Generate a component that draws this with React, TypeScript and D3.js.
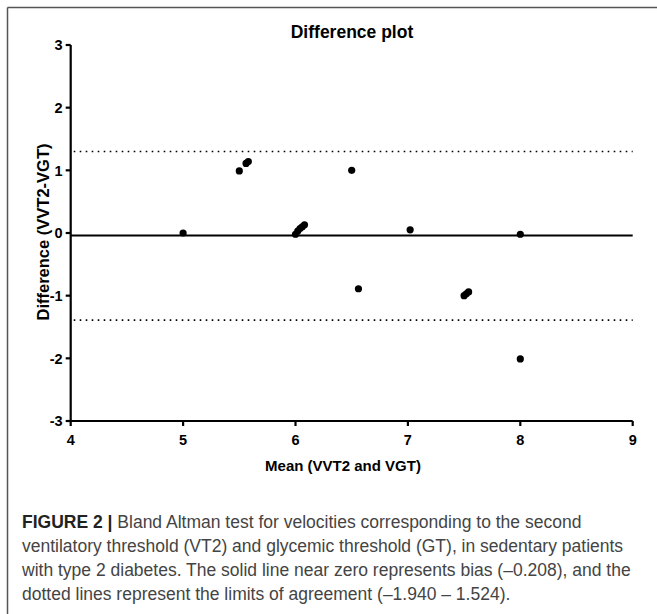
import React from "react";
import * as d3 from "d3";

const xTicks = [4, 5, 6, 7, 8, 9];
const yTicks = [-3, -2, -1, 0, 1, 2, 3];
const meanValues = [5.0, 5.5, 5.56, 5.58, 6.0, 6.02, 6.04, 6.06, 6.08, 6.5, 6.56, 7.02, 7.5, 7.52, 7.54, 8.0, 8.0];
const diffValues = [0.0, 0.99, 1.11, 1.14, -0.02, 0.03, 0.07, 0.1, 0.13, 1.0, -0.89, 0.05, -1.0, -0.97, -0.94, -0.02, -2.01];
const bias = -0.04;
const upperLimit = 1.3;
const lowerLimit = -1.39;
const captionLines = [
  "Bland Altman test for velocities corresponding to the second",
  "ventilatory threshold (VT2) and glycemic threshold (GT), in sedentary patients",
  "with type 2 diabetes. The solid line near zero represents bias (\u20130.208), and the",
  "dotted lines represent the limits of agreement (\u20131.940 \u2013 1.524).",
];

export default function App() {
  const W = 657, H = 614;
  const x = d3.scaleLinear().domain([4, 9]).range([70.7, 632.7]);
  const y = d3.scaleLinear().domain([-3, 3]).range([421, 45]);
  const font = "'Liberation Sans', Arial, sans-serif";
  const [x0, x1] = x.range();
  return (
    <svg width={W} height={H} style={{ position: "absolute", left: 0, top: 0, background: "#fff" }}>
      <rect x={0} y={0} width={W} height={H} fill="#fff" />
      {/* frame */}
      <line x1={7.5} x2={W} y1={7.5} y2={7.5} stroke="#555" strokeWidth={1.5} />
      <line x1={7.5} x2={7.5} y1={7.5} y2={H} stroke="#555" strokeWidth={1.5} />
      {/* title */}
      <text x={352} y={38} textAnchor="middle" fontFamily={font} fontWeight="bold" fontSize={17.5} fill="#000">
        Difference plot
      </text>
      {/* limit lines */}
      {[upperLimit, lowerLimit].map((v, i) => (
        <line key={i} x1={x0 + 3} x2={x1} y1={y(v)} y2={y(v)} stroke="#000" strokeWidth={1.6} strokeDasharray="1.6,4.4" />
      ))}
      {/* bias line */}
      <line x1={x0} x2={x1} y1={y(bias)} y2={y(bias)} stroke="#000" strokeWidth={2} />
      {/* axes */}
      <line x1={x0} x2={x0} y1={y(3)} y2={y(-3)} stroke="#000" strokeWidth={2.2} />
      <line x1={x0} x2={x1} y1={y(-3)} y2={y(-3)} stroke="#000" strokeWidth={2.2} />
      {yTicks.map((t) => (
        <g key={"y" + t}>
          <line x1={x0 - 5} x2={x0} y1={y(t)} y2={y(t)} stroke="#000" strokeWidth={2.2} />
          <text x={x0 - 8} y={y(t)} dy="0.36em" textAnchor="end" fontFamily={font} fontWeight="bold" fontSize={14.5} fill="#000">
            {t}
          </text>
        </g>
      ))}
      {xTicks.map((t) => (
        <g key={"x" + t}>
          <line x1={x(t)} x2={x(t)} y1={y(-3)} y2={y(-3) + 5} stroke="#000" strokeWidth={2.2} />
          <text x={x(t)} y={y(-3) + 19} dy="0.36em" textAnchor="middle" fontFamily={font} fontWeight="bold" fontSize={14.5} fill="#000">
            {t}
          </text>
        </g>
      ))}
      <text x={343} y={466} dy="0.36em" textAnchor="middle" fontFamily={font} fontWeight="bold" fontSize={15} fill="#000">
        Mean (VVT2 and VGT)
      </text>
      <text
        transform={`translate(43,232) rotate(-90)`}
        dy="0.36em"
        textAnchor="middle"
        fontFamily={font}
        fontWeight="bold"
        fontSize={16.5}
        fill="#000"
      >
        Difference (VVT2-VGT)
      </text>
      {/* points */}
      {meanValues.map((m, i) => (
        <circle key={i} cx={x(m)} cy={y(diffValues[i])} r={3.6} fill="#000" />
      ))}
      {/* caption */}
      {captionLines.map((line, i) => (
        <text key={i} x={22} y={528 + i * 24} fontFamily="'Liberation Sans', Arial, sans-serif" fontSize={17.5} fill="#444">
          {i === 0 && <tspan fontWeight="bold" fill="#222">FIGURE 2 </tspan>}
          {i === 0 && <tspan fontWeight="bold" fill="#222">| </tspan>}
          {line}
        </text>
      ))}
    </svg>
  );
}
